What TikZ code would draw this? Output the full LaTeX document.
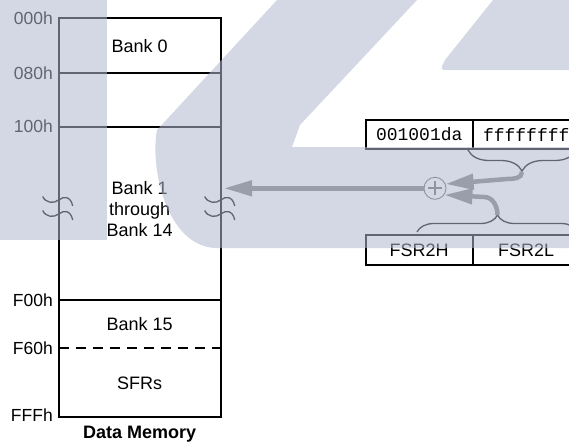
\documentclass[tikz,border=0pt]{standalone}
\usepackage{fontspec}
\setmainfont{Liberation Sans}
\setmonofont{Liberation Mono}
\usetikzlibrary{arrows.meta, positioning, decorations.pathreplacing}

\definecolor{flowgray}{RGB}{128,128,128}
\definecolor{plusgray}{RGB}{105,105,105}
\definecolor{wmblue}{RGB}{177,184,206}

\begin{document}
\begin{tikzpicture}[
        x=1pt, y=-1pt,
        every node/.style={font=\fontsize{18}{21}\selectfont, inner sep=0pt},
        addr/.style={anchor=east, font=\fontsize{17.5}{20}\selectfont},
        mem/.style={line width=1.8pt},
        reg/.style={draw, line width=1.8pt, outer sep=0pt, minimum width=107pt, minimum height=30pt},
        flow/.style={line width=4.5pt, draw=flowgray, -{Triangle[length=28pt, width=15pt]}}
    ]

    \tikzset{
    brace/.style={draw, line width=1.3pt, decorate},
    brk/.pic={\draw[line width=1.3pt] (-16,-3.5) .. controls (-13,3) and (-5,4) .. (0,0)
        .. controls (5,-4) and (12,-4) .. (14,6);},
    wm/.style={fill=wmblue, fill opacity=0.55}
}

    \useasboundingbox (0,0) rectangle (569,442);
    \clip (0,0) rectangle (569,442);

    % data memory map
    \draw[mem] (58.7,18.3) rectangle (220.7,417.3);
    \foreach \y in {73.3, 126.7, 300}
        \draw[mem] (58.7,\y) -- (220.7,\y);
    \draw[mem, dash pattern=on 10pt off 7pt] (58.7,348.3) -- (220.7,348.3);

    \foreach \x in {58.7, 220.7}
        \foreach \y in {200, 214}
            \pic at (\x,\y) {brk};

    \node (b0) at (139.7,45.8) {Bank 0};
    \node[align=center] (b1) at (139.7,209) {Bank 1\\through\\Bank 14};
    \node (b15) at (139.7,324.5) {Bank 15};
    \node (sfr) at (139.7,383) {SFRs};
    \node[font=\fontsize{18}{21}\selectfont\bfseries] (dm) at (139.7,434) {Data Memory};

    \node[addr] (a000) at (53,18.3) {000h};
    \node[addr] (a080) at (53,73.3) {080h};
    \node[addr] (a100) at (53,126.7) {100h};
    \node[addr] (af00) at (53,300) {F00h};
    \node[addr] (af60) at (53,348.3) {F60h};
    \node[addr] (afff) at (53,415) {FFFh};

    % registers
    \node[reg, minimum height=29pt] (ptr) at (419.2,134.5) {\ttfamily 001001da};
    \node[reg, minimum height=29pt] (off) [right=0pt of ptr] {\ttfamily ffffffff};
    \node[reg] (hi) at (419.2,250) {FSR2H};
    \node[reg] (lo) [right=0pt of hi] {FSR2L};

    \coordinate (utip) at (522,172);
    \coordinate (ltip) at (497.5,215);
    \coordinate (uknee) at (507,179);
    \coordinate (lknee) at (484,197);
    \coordinate (mtip) at (224,188.3);

    \draw[brace, decoration={brace, amplitude=21pt}] (576,150) -- (468,150);
    \draw[brace, decoration={brace, amplitude=17pt}] (417,232) -- (578,232);

    \node[circle, draw=plusgray, line width=0.9pt, minimum size=22pt, fill=white] (plus) at (435,188.3) {};
    \draw[plusgray, line width=2pt] ([xshift=-7pt]plus.center) -- ([xshift=7pt]plus.center);
    \draw[plusgray, line width=2pt] ([yshift=-7pt]plus.center) -- ([yshift=7pt]plus.center);

    \draw[flow] (utip) to[out=-90, in=0] (uknee) -- (plus.22);
    \draw[flow] (ltip) to[out=90, in=0] (lknee) -- (plus.-35);
    \draw[flow] (plus) -- (mtip);

    % watermark
    \fill[wm] (0,0) rectangle (107,240);
    \fill[wm] (277,0) -- (157,130) .. controls (150,165) and (165,245) .. (215,248)
        -- (575,248) -- (575,147) -- (292,147) -- (300,125) -- (417,0) -- cycle;
    \fill[wm] (493,0) -- (575,0) -- (575,70) -- (448,70) .. controls (440,70) .. (445,60) -- cycle;
    \end{tikzpicture}
\end{document}
